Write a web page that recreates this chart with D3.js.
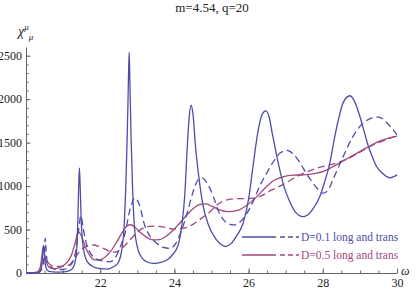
<!DOCTYPE html>
<html>
<head>
<meta charset="utf-8">
<script src="https://cdn.jsdelivr.net/npm/d3@7"></script>
<style>
  body { margin: 0; background: #fff; }
  svg text { font-family: "Liberation Serif", "DejaVu Serif", serif; fill: #222; }
  .axis path, .axis line { stroke: #666; }
</style>
</head>
<body>
<svg width="417" height="289"></svg>
<script>
// tick labels
var omegaTicks = [22, 24, 26, 28, 30];
var chiTicks = [0, 500, 1000, 1500, 2000, 2500];

// D=0.1, longitudinal (solid)
var d01Long = [[20,0],[20.3,3],[20.38,20],[20.43,110],[20.47,320],[20.51,130],[20.56,40],[20.65,15],[20.8,10],[21.0,12],
  [21.15,25],[21.25,50],[21.32,120],[21.37,300],[21.4,650],[21.42,1000],[21.44,1210],[21.46,1000],[21.48,700],[21.5,500],
  [21.56,250],[21.65,130],[21.8,75],[22.0,50],[22.2,45],[22.35,70],[22.45,100],[22.5,130],[22.58,260],[22.64,500],
  [22.69,1000],[22.73,1600],[22.76,2200],[22.78,2540],[22.8,2200],[22.83,1600],[22.87,1000],[22.92,550],[23.0,300],[23.1,190],
  [23.25,130],[23.42,110],[23.6,120],[23.8,150],[23.95,210],[24.1,320],[24.2,550],[24.28,900],[24.34,1400],[24.4,1800],
  [24.45,1930],[24.5,1830],[24.57,1450],[24.66,1100],[24.77,780],[24.93,540],[25.1,400],[25.25,330],[25.38,305],[25.52,335],
  [25.68,430],[25.85,570],[26.0,850],[26.13,1264],[26.25,1620],[26.36,1820],[26.46,1866],[26.55,1800],[26.64,1600],[26.8,1264],
  [26.95,1000],[27.1,830],[27.25,706],[27.37,660],[27.47,649],[27.6,670],[27.74,740],[27.92,880],[28.05,1050],[28.19,1264],
  [28.3,1520],[28.42,1763],[28.55,1960],[28.73,2039],[28.88,1950],[29.0,1801],[29.12,1620],[29.23,1455],[29.35,1320],[29.45,1225],
  [29.6,1150],[29.72,1110],[29.81,1095],[29.9,1105],[30,1129]];

// D=0.1, transverse (dashed)
var d01Trans = [[20,0],[20.35,10],[20.44,60],[20.49,200],[20.52,400],[20.55,200],[20.6,100],[20.7,60],[20.85,40],[21.0,40],
  [21.15,70],[21.28,150],[21.36,300],[21.42,500],[21.48,660],[21.54,520],[21.62,350],[21.75,220],[21.9,160],[22.05,140],
  [22.26,130],[22.4,170],[22.52,280],[22.67,457],[22.8,726],[22.94,864],[23.05,790],[23.21,533],[23.35,420],[23.52,342],
  [23.7,295],[23.88,284],[24.05,350],[24.2,500],[24.35,700],[24.5,930],[24.62,1060],[24.74,1094],[24.9,1020],[25.05,880],
  [25.2,700],[25.35,600],[25.5,560],[25.65,553],[25.8,600],[26.0,720],[26.15,850],[26.3,1000],[26.49,1150],[26.7,1300],
  [26.85,1380],[27.03,1410],[27.2,1370],[27.39,1264],[27.55,1150],[27.74,1033],[27.9,950],[28.01,918],[28.15,960],[28.3,1100],
  [28.55,1340],[28.8,1560],[29.0,1686],[29.25,1770],[29.5,1794],[29.7,1740],[29.85,1670],[30,1590]];

// D=0.5, longitudinal (solid)
var d05Long = [[20,0],[20.3,10],[20.38,60],[20.43,200],[20.46,290],[20.5,220],[20.56,110],[20.65,60],[20.8,50],[20.95,70],
  [21.1,120],[21.22,200],[21.32,340],[21.41,476],[21.5,420],[21.6,300],[21.72,200],[21.85,150],[21.98,150],[22.15,190],
  [22.3,260],[22.45,360],[22.6,470],[22.72,540],[22.82,555],[22.95,520],[23.1,460],[23.25,410],[23.43,380],[23.6,385],
  [23.8,430],[24.06,533],[24.3,650],[24.5,740],[24.7,790],[24.85,795],[25.0,770],[25.2,730],[25.45,705],[25.7,720],
  [25.95,780],[26.2,870],[26.45,980],[26.7,1070],[26.95,1110],[27.2,1125],[27.5,1130],[27.8,1145],[28.05,1175],[28.3,1230],
  [28.55,1290],[28.8,1350],[29.05,1410],[29.3,1470],[29.55,1520],[29.8,1555],[30,1575]];

// D=0.5, transverse (dashed)
var d05Trans = [[20,0],[20.35,10],[20.43,60],[20.48,150],[20.52,170],[20.58,130],[20.65,95],[20.8,75],[21.0,78],[21.17,95],
  [21.3,160],[21.44,245],[21.6,300],[21.8,322],[22.0,300],[22.2,260],[22.4,240],[22.6,290],[22.8,380],[23.0,470],
  [23.2,525],[23.4,540],[23.7,530],[24.0,505],[24.3,520],[24.5,560],[24.7,620],[24.96,706],[25.2,800],[25.45,845],
  [25.7,855],[26.0,855],[26.3,880],[26.6,950],[26.94,1020],[27.25,1100],[27.55,1160],[27.9,1215],[28.2,1245],[28.5,1285],
  [28.75,1330],[29.0,1390],[29.25,1450],[29.5,1500],[29.75,1540],[30,1580]];

var blue = "#4d4da8", purple = "#a3477c";
var serif = "Liberation Serif, DejaVu Serif, serif";

var svg = d3.select("svg");

var x = d3.scaleLinear().domain([20, 30]).range([26, 397]);
var y = d3.scaleLinear().domain([0, 2600]).range([273, 47]);

// minor ticks first
svg.append("g")
    .attr("class", "axis")
    .attr("transform", "translate(0," + y(0) + ")")
    .call(d3.axisBottom(x).tickValues(d3.range(20.5, 30, 0.5)).tickSize(-2.5).tickFormat(""))
    .call(function(g) { g.select(".domain").remove(); });

svg.append("g")
    .attr("class", "axis")
    .attr("transform", "translate(" + x(20) + ",0)")
    .call(d3.axisLeft(y).tickValues(d3.range(100, 2600, 100)).tickSize(-2.5).tickFormat(""))
    .call(function(g) { g.select(".domain").remove(); });

var xAxis = svg.append("g")
    .attr("class", "axis")
    .attr("transform", "translate(0," + y(0) + ")")
    .call(d3.axisBottom(x).tickValues(omegaTicks).tickSize(-4.5).tickSizeOuter(0).tickPadding(5).tickFormat(d3.format("d")))
    .attr("font-family", serif);
xAxis.selectAll("text").attr("font-size", 12).attr("fill", "#222");

var yAxis = svg.append("g")
    .attr("class", "axis")
    .attr("transform", "translate(" + x(20) + ",0)")
    .call(d3.axisLeft(y).tickValues(chiTicks).tickSize(-4.5).tickSizeOuter(0).tickPadding(4).tickFormat(d3.format("d")))
    .attr("font-family", serif);
yAxis.selectAll("text").attr("font-size", 12).attr("fill", "#222");

// curves
var line = d3.line()
    .x(function(d) { return x(d[0]); })
    .y(function(d) { return y(d[1]); })
    .curve(d3.curveMonotoneX);

var series = [
  { data: d05Trans, color: purple, dash: "7,4" },
  { data: d05Long, color: purple, dash: null },
  { data: d01Trans, color: blue, dash: "7,4" },
  { data: d01Long, color: blue, dash: null }
];

svg.append("g").selectAll("path")
    .data(series)
    .enter().append("path")
    .attr("d", function(d) { return line(d.data); })
    .attr("fill", "none")
    .attr("stroke", function(d) { return d.color; })
    .attr("stroke-width", 1.3)
    .attr("stroke-dasharray", function(d) { return d.dash; });

// title and axis labels
svg.append("text")
    .attr("x", 212).attr("y", 12)
    .attr("text-anchor", "middle")
    .attr("font-family", serif)
    .attr("font-size", 13)
    .text("m=4.54, q=20");

var ylab = svg.append("text")
    .attr("x", 18).attr("y", 36)
    .attr("font-family", serif)
    .attr("font-size", 14);
ylab.append("tspan").attr("font-style", "italic").text("χ");
ylab.append("tspan").attr("font-size", 9).attr("font-style", "italic").attr("dy", -6).text("μ");
ylab.append("tspan").attr("font-size", 9).attr("font-style", "italic").attr("dy", 10).text("μ");

svg.append("text")
    .attr("x", 401).attr("y", 275)
    .attr("font-family", serif)
    .attr("font-size", 12)
    .attr("font-style", "italic")
    .text("ω");

// legend
var legend = [
  { label: "D=0.1 long and trans", color: blue, y: 237 },
  { label: "D=0.5 long and trans", color: purple, y: 255 }
];

var lg = svg.append("g").selectAll("g")
    .data(legend)
    .enter().append("g");

lg.append("line")
    .attr("x1", 242).attr("x2", 276)
    .attr("y1", function(d) { return d.y; }).attr("y2", function(d) { return d.y; })
    .attr("stroke", function(d) { return d.color; })
    .attr("stroke-width", 1.3);

lg.append("line")
    .attr("x1", 280).attr("x2", 299)
    .attr("y1", function(d) { return d.y; }).attr("y2", function(d) { return d.y; })
    .attr("stroke", function(d) { return d.color; })
    .attr("stroke-width", 1.3)
    .attr("stroke-dasharray", "5,3");

lg.append("text")
    .attr("x", 301)
    .attr("y", function(d) { return d.y + 4; })
    .attr("font-family", serif)
    .attr("font-size", 11.5)
    .style("fill", function(d) { return d.color; })
    .text(function(d) { return d.label; });
</script>
</body>
</html>
